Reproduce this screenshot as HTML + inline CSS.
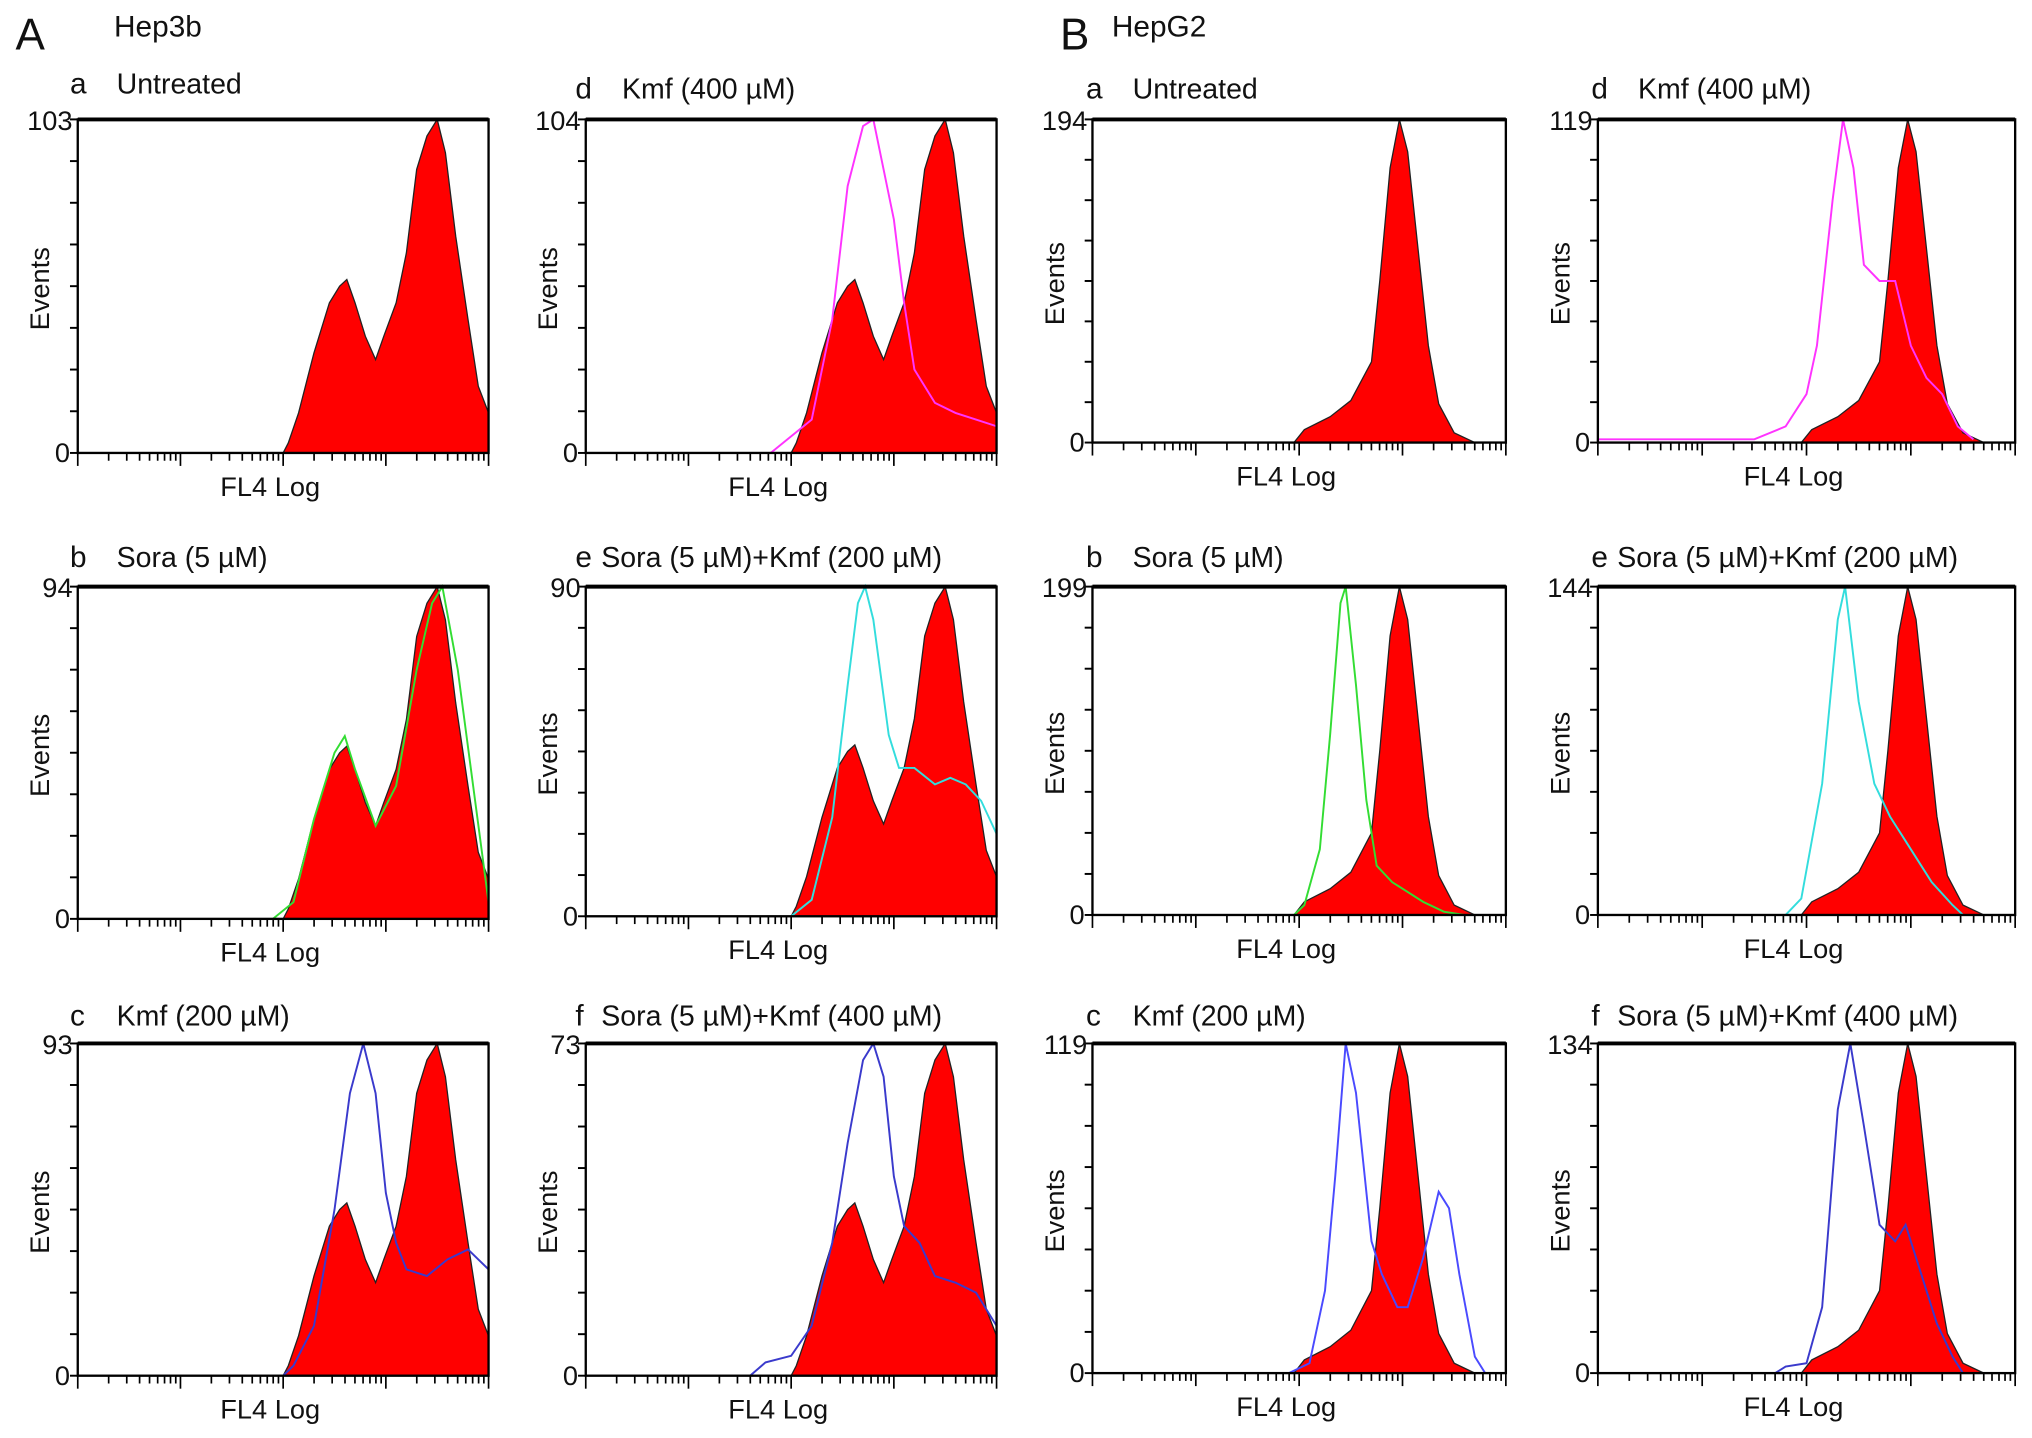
<!DOCTYPE html>
<html><head><meta charset="utf-8"><style>
html,body{margin:0;padding:0;background:#fff}
svg{display:block}
text{font-family:"Liberation Sans",sans-serif;fill:#111}
</style></head><body>
<svg id="fig" width="2032" height="1438" viewBox="0 0 1568 1108" preserveAspectRatio="none" xmlns="http://www.w3.org/2000/svg">
<text x="12" y="38" font-size="34">A</text>
<text x="88" y="28" font-size="23">Hep3b</text>
<text x="818" y="38" font-size="34">B</text>
<text x="858" y="28" font-size="23">HepG2</text>
</svg>
<script>
// Red filled reference histograms (x in decades 0..4, y as fraction of max)
const hep3bRedX=[2.0,2.05,2.15,2.3,2.45,2.55,2.62,2.7,2.8,2.9,2.98,3.1,3.2,3.3,3.4,3.5,3.58,3.68,3.8,3.9,4.0];
const hep3bRedY=[0,0.03,0.12,0.3,0.45,0.5,0.52,0.45,0.35,0.28,0.35,0.45,0.6,0.85,0.95,1.0,0.9,0.65,0.4,0.2,0.12];
const hepg2RedX=[1.95,2.05,2.3,2.5,2.7,2.78,2.88,2.97,3.05,3.15,3.25,3.35,3.5,3.7];
const hepg2RedY=[0,0.04,0.08,0.13,0.25,0.5,0.85,1.0,0.9,0.6,0.3,0.12,0.03,0];
// Overlay series
const hep3bSoraX=[1.9,2.1,2.3,2.5,2.6,2.7,2.9,3.1,3.3,3.45,3.55,3.7,3.85,4.0];
const hep3bSoraY=[0,0.05,0.3,0.5,0.55,0.45,0.28,0.4,0.75,0.95,1.0,0.75,0.4,0.05];
const hep3bKmf200X=[2.0,2.1,2.3,2.5,2.65,2.78,2.9,3.0,3.1,3.2,3.4,3.6,3.8,3.9,4.0];
const hep3bKmf200Y=[0,0.03,0.15,0.5,0.85,1.0,0.85,0.55,0.4,0.32,0.3,0.35,0.38,0.35,0.32];
const hep3bKmf400X=[1.8,2.2,2.4,2.55,2.7,2.8,2.9,3.0,3.1,3.2,3.4,3.6,3.8,4.0];
const hep3bKmf400Y=[0,0.1,0.4,0.8,0.98,1.0,0.85,0.7,0.45,0.25,0.15,0.12,0.1,0.08];
const hep3bCombo200X=[2.0,2.2,2.4,2.55,2.65,2.72,2.8,2.95,3.05,3.2,3.4,3.55,3.7,3.85,4.0];
const hep3bCombo200Y=[0,0.05,0.3,0.7,0.95,1.0,0.9,0.55,0.45,0.45,0.4,0.42,0.4,0.35,0.25];
const hep3bCombo400X=[1.6,1.75,2.0,2.2,2.4,2.55,2.7,2.8,2.9,3.0,3.1,3.25,3.4,3.6,3.8,4.0];
const hep3bCombo400Y=[0,0.04,0.06,0.15,0.4,0.7,0.95,1.0,0.9,0.6,0.45,0.4,0.3,0.28,0.25,0.15];
const hepg2SoraX=[1.95,2.05,2.2,2.3,2.4,2.45,2.55,2.65,2.75,2.9,3.0,3.2,3.4,3.6];
const hepg2SoraY=[0,0.03,0.2,0.55,0.95,1.0,0.7,0.35,0.15,0.1,0.08,0.04,0.01,0];
const hepg2Kmf200X=[1.9,2.1,2.25,2.35,2.45,2.55,2.7,2.8,2.95,3.05,3.2,3.35,3.45,3.55,3.7,3.8];
const hepg2Kmf200Y=[0,0.03,0.25,0.6,1.0,0.85,0.4,0.3,0.2,0.2,0.35,0.55,0.5,0.3,0.05,0];
const hepg2Kmf400X=[0,1.5,1.8,2.0,2.1,2.25,2.35,2.45,2.55,2.7,2.85,3.0,3.15,3.3,3.45,3.6];
const hepg2Kmf400Y=[0.01,0.01,0.05,0.15,0.3,0.75,1.0,0.85,0.55,0.5,0.5,0.3,0.2,0.15,0.05,0.01];
const hepg2Combo200X=[1.8,1.95,2.15,2.3,2.37,2.5,2.65,2.8,3.0,3.2,3.4,3.5];
const hepg2Combo200Y=[0,0.05,0.4,0.9,1.0,0.65,0.4,0.3,0.2,0.1,0.03,0];
const hepg2Combo400X=[1.7,1.8,2.0,2.15,2.3,2.42,2.55,2.7,2.85,2.95,3.1,3.25,3.4,3.5];
const hepg2Combo400Y=[0,0.02,0.03,0.2,0.8,1.0,0.75,0.45,0.4,0.45,0.3,0.15,0.05,0];
const yMaxLabels=["103","104","194","119","94","90","199","144","93","73","119","134"];

const panels=[
 {x:60,y:92,w:317,h:257,letter:"a",title:"Untreated",tx:54,ty:72,max:yMaxLabels[0],red:"3b",ov:null},
 {x:452,y:92,w:317,h:257,letter:"d",title:"Kmf (400 \u00b5M)",tx:444,ty:76,max:yMaxLabels[1],red:"3b",ov:[hep3bKmf400X,hep3bKmf400Y,"#ff33ff"]},
 {x:843,y:92,w:319,h:249,letter:"a",title:"Untreated",tx:838,ty:76,max:yMaxLabels[2],red:"g2",ov:null},
 {x:1233,y:92,w:322,h:249,letter:"d",title:"Kmf (400 \u00b5M)",tx:1228,ty:76,max:yMaxLabels[3],red:"g2",ov:[hepg2Kmf400X,hepg2Kmf400Y,"#ff33ff"]},
 {x:60,y:452,w:317,h:256,letter:"b",title:"Sora (5 \u00b5M)",tx:54,ty:437,max:yMaxLabels[4],red:"3b",ov:[hep3bSoraX,hep3bSoraY,"#33dd33"]},
 {x:452,y:452,w:317,h:254,letter:"e",title:"Sora (5 \u00b5M)+Kmf (200 \u00b5M)",tx:444,ty:437,max:yMaxLabels[5],red:"3b",ov:[hep3bCombo200X,hep3bCombo200Y,"#33dddd"]},
 {x:843,y:452,w:319,h:253,letter:"b",title:"Sora (5 \u00b5M)",tx:838,ty:437,max:yMaxLabels[6],red:"g2",ov:[hepg2SoraX,hepg2SoraY,"#33dd33"]},
 {x:1233,y:452,w:322,h:253,letter:"e",title:"Sora (5 \u00b5M)+Kmf (200 \u00b5M)",tx:1228,ty:437,max:yMaxLabels[7],red:"g2",ov:[hepg2Combo200X,hepg2Combo200Y,"#33dddd"]},
 {x:60,y:804,w:317,h:256,letter:"c",title:"Kmf (200 \u00b5M)",tx:54,ty:790,max:yMaxLabels[8],red:"3b",ov:[hep3bKmf200X,hep3bKmf200Y,"#3a3acc"]},
 {x:452,y:804,w:317,h:256,letter:"f",title:"Sora (5 \u00b5M)+Kmf (400 \u00b5M)",tx:444,ty:790,max:yMaxLabels[9],red:"3b",ov:[hep3bCombo400X,hep3bCombo400Y,"#3a3acc"]},
 {x:843,y:804,w:319,h:254,letter:"c",title:"Kmf (200 \u00b5M)",tx:838,ty:790,max:yMaxLabels[10],red:"g2",ov:[hepg2Kmf200X,hepg2Kmf200Y,"#4a4aff"]},
 {x:1233,y:804,w:322,h:254,letter:"f",title:"Sora (5 \u00b5M)+Kmf (400 \u00b5M)",tx:1228,ty:790,max:yMaxLabels[11],red:"g2",ov:[hepg2Combo400X,hepg2Combo400Y,"#3a3acc"]}
];
const NS="http://www.w3.org/2000/svg";
const svg=document.getElementById('fig');
function mk(tag,attrs,parent){const e=document.createElementNS(NS,tag);for(const k in attrs)e.setAttribute(k,attrs[k]);(parent||svg).appendChild(e);return e;}
panels.forEach((p,i)=>{
 const g=mk('g',{});
 
 
 const sx=d=>p.x+d/4*p.w, sy=v=>p.y+p.h-v*p.h;
 const tl=mk('text',{x:p.tx,y:p.ty,'font-size':23},g);
 tl.textContent=p.letter;
 
 
 const t=mk('text',{x:p.tx+(p.title.length>20?20:36),y:p.ty,'font-size':22},g);
 t.textContent=p.title;
 
 
 const rx=p.red==="3b"?hep3bRedX:hepg2RedX, ry=p.red==="3b"?hep3bRedY:hepg2RedY;
 let d="M"+sx(rx[0])+","+sy(0);
 rx.forEach((x,k)=>{d+=" L"+sx(x)+","+sy(ry[k]);});
 d+=" L"+sx(rx[rx.length-1])+","+sy(0)+"Z";
 const r=mk('path',{d:d,fill:'#ff0000',stroke:'#222','stroke-width':1},g);
 
 
 if(p.ov){
  const [ox,oy,c]=p.ov;
  const pts=ox.map((x,k)=>sx(x)+","+sy(oy[k])).join(" ");
  const l=mk('polyline',{points:pts,fill:'none',stroke:c,'stroke-width':1.5},g);
  
  
 }
 mk('line',{x1:p.x,y1:p.y,x2:p.x+p.w,y2:p.y,stroke:'#000','stroke-width':3},g);
 mk('rect',{x:p.x,y:p.y,width:p.w,height:p.h,fill:'none',stroke:'#000','stroke-width':1.8},g);
 for(let k=0;k<=8;k++){const yy=p.y+p.h*k/8;mk('line',{x1:p.x-6,y1:yy,x2:p.x,y2:yy,stroke:'#000','stroke-width':1.5},g);}
 for(let dec=0;dec<4;dec++){for(let m=1;m<=9;m++){const xx=sx(dec+Math.log10(m));mk('line',{x1:xx,y1:p.y+p.h,x2:xx,y2:p.y+p.h+(m===1?10:6),stroke:'#000','stroke-width':1.3},g);}}
 mk('line',{x1:p.x+p.w,y1:p.y+p.h,x2:p.x+p.w,y2:p.y+p.h+10,stroke:'#000','stroke-width':1.3},g);
 const mx=mk('text',{x:p.x-4,y:p.y+8,'font-size':21,'text-anchor':'end'},g);mx.textContent=p.max;
 
 
 const z=mk('text',{x:p.x-6,y:p.y+p.h+7,'font-size':21,'text-anchor':'end'},g);z.textContent="0";
 
 
 const ev=mk('text',{x:0,y:0,'font-size':21,'text-anchor':'middle',transform:`translate(${p.x-22},${p.y+p.h/2+2}) rotate(-90)`},g);ev.textContent="Events";
 
 
 const fl=mk('text',{x:p.x+p.w/2-10,y:p.y+p.h+33,'font-size':21,'text-anchor':'middle'},g);fl.textContent="FL4 Log";
 
 
});
</script>
</body></html>
